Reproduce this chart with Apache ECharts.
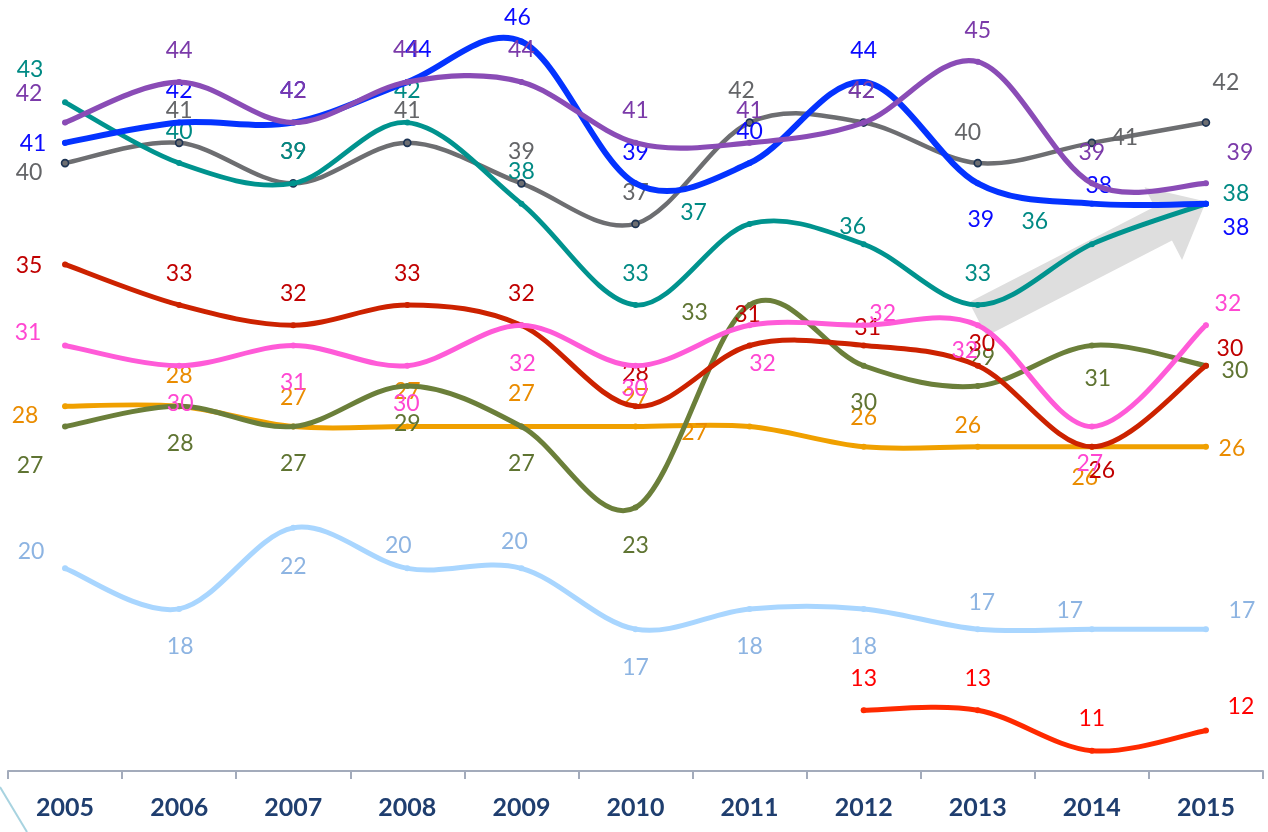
<!DOCTYPE html>
<html>
<head>
<meta charset="utf-8">
<title>Trend 2005–2015</title>
<script src="https://cdn.jsdelivr.net/npm/echarts@6/dist/echarts.min.js"></script>
<style>
  html, body { margin: 0; padding: 0; background: #ffffff; }
  #chart { width: 1268px; height: 832px; }
</style>
</head>
<body>
<div id="chart"></div>
<script>
// Categories
const years = ['2005', '2006', '2007', '2008', '2009', '2010', '2011', '2012', '2013', '2014', '2015'];

// Series values
const purple  = [42, 44, 42, 44, 44, 41, 41, 42, 45, 39, 39];
const blue    = [41, 42, 42, 44, 46, 39, 40, 44, 39, 38, 38];
const gray    = [40, 41, 39, 41, 39, 37, 42, 42, 40, 41, 42];
const teal    = [43, 40, 39, 42, 38, 33, 37, 36, 33, 36, 38];
const crimson = [35, 33, 32, 33, 32, 28, 31, 31, 30, 26, 30];
const pink    = [31, 30, 31, 30, 32, 30, 32, 32, 32, 27, 32];
const amber   = [28, 28, 27, 27, 27, 27, 27, 26, 26, 26, 26];
const olive   = [27, 28, 27, 29, 27, 23, 33, 30, 29, 31, 30];
const sky     = [20, 18, 22, 20, 20, 17, 18, 18, 17, 17, 17];
const scarlet = [null, null, null, null, null, null, null, 13, 13, 11, 12];

// Per-point label nudges (pixels from the point) so the value labels don't collide
const nudges = {
  sky:     [[-34,-17],[1,38],[0,39],[-9,-23],[-7,-27],[0,38],[0,38],[0,38],[4,-27],[-22,-19],[36,-19]],
  scarlet: [null,null,null,null,null,null,null,[0,-32],[0,-32],[0,-32],[35,-24]],
  amber:   [[-40,9],[0,-31],[0,-29],[0,-35],[0,-33],[0,-29],[-55,6],[0,-29],[-10,-21],[-7,31],[26,2]],
  olive:   [[-35,39],[1,37],[0,37],[0,38],[0,37],[0,38],[-55,8],[0,37],[4,-28],[6,33],[29,5]],
  crimson: [[-36,1],[0,-31],[0,-32],[0,-31],[0,-32],[0,-33],[-2,-31],[4,-18],[4,-22],[10,24],[24,-17]],
  pink:    [[-37,-13],[1,38],[0,37],[-1,38],[1,38],[-1,23],[13,38],[19,-12],[-13,25],[-2,37],[22,-22]],
  gray:    [[-36,9],[0,-32],[0,-32],[0,-32],[0,-32],[0,-31],[-8,-32],[-2,-32],[-10,-31],[33,-5],[20,-40]],
  teal:    [[-35,-33],[0,-32],[0,-32],[0,-32],[0,-32],[0,-31],[-56,-11],[-11,-18],[0,-31],[-57,-23],[30,-10]],
  blue:    [[-32,1],[0,-32],[0,-32],[11,-32],[-4,-24],[0,-31],[0,-32],[0,-31],[3,36],[7,-18],[30,24]],
  purple:  [[-36,-29],[0,-31],[0,-32],[-1,-32],[0,-32],[0,-32],[0,-32],[-2,-32],[0,-31],[0,-31],[34,-31]]
};

// Drawing order: first entries sit underneath
const lines = [
  { key: 'sky',     values: sky,     line: '#a9d6ff', text: '#8db4e2', width: 5 },
  { key: 'scarlet', values: scarlet, line: '#ff2a00', text: '#ff0000', width: 5 },
  { key: 'amber',   values: amber,   line: '#f0a000', text: '#ea8c00', width: 5 },
  { key: 'olive',   values: olive,   line: '#6b7f3a', text: '#5f7432', width: 5 },
  { key: 'crimson', values: crimson, line: '#cc2200', text: '#c00000', width: 5 },
  { key: 'pink',    values: pink,    line: '#ff5bd8', text: '#ff47d2', width: 5 },
  { key: 'gray',    values: gray,    line: '#6d6e71', text: '#646568', width: 4.5, ring: '#1d3454' },
  { key: 'teal',    values: teal,    line: '#00938e', text: '#008a84', width: 4.8 },
  { key: 'blue',    values: blue,    line: '#0433ff', text: '#0a0aff', width: 6 },
  { key: 'purple',  values: purple,  line: '#8a4cb6', text: '#7b3aa9', width: 5.2 }
];

const labelFont = 'Lato, "Open Sans", sans-serif';

// Smooth curve through the points (Catmull-Rom spline written as cubic Béziers),
// positioned with the chart's own coordinate system.
function curveRenderer(values, color, width) {
  return function (params, api) {
    const pts = [];
    values.forEach(function (v, i) {
      if (v !== null) pts.push(api.coord([i, v]));
    });
    if (pts.length < 2) return null;
    let d = 'M' + pts[0][0] + ' ' + pts[0][1];
    for (let i = 0; i < pts.length - 1; i++) {
      const p0 = pts[Math.max(i - 1, 0)];
      const p1 = pts[i];
      const p2 = pts[i + 1];
      const p3 = pts[Math.min(i + 2, pts.length - 1)];
      const c1x = p1[0] + (p2[0] - p0[0]) / 6;
      const c1y = p1[1] + (p2[1] - p0[1]) / 6;
      const c2x = p2[0] - (p3[0] - p1[0]) / 6;
      const c2y = p2[1] - (p3[1] - p1[1]) / 6;
      d += ' C' + c1x + ' ' + c1y + ' ' + c2x + ' ' + c2y + ' ' + p2[0] + ' ' + p2[1];
    }
    return {
      type: 'path',
      shape: { pathData: d },
      style: { fill: 'none', stroke: color, lineWidth: width, lineCap: 'round', lineJoin: 'round' },
      silent: true
    };
  };
}

const series = [];
lines.forEach(function (s, idx) {
  // the curve itself
  series.push({
    name: s.key + '-curve',
    type: 'custom',
    renderItem: curveRenderer(s.values, s.line, s.width),
    data: [[0, s.values.find(function (v) { return v !== null; })]],
    encode: { x: 0, y: 1 },
    z: 2 + idx * 0.01,
    silent: true,
    animation: false
  });
  // the point markers and their value labels
  const data = s.values.map(function (v, i) {
    if (v === null) return null;
    const n = nudges[s.key][i] || [0, -32];
    return { value: v, label: { offset: n } };
  });
  series.push({
    name: s.key,
    type: 'line',
    data: data,
    connectNulls: false,
    symbol: 'circle',
    symbolSize: s.ring ? 7 : 6,
    showAllSymbol: true,
    lineStyle: { width: 0, opacity: 0 },
    itemStyle: s.ring
      ? { color: s.line, borderColor: s.ring, borderWidth: 1.6 }
      : { color: s.line, borderWidth: 0 },
    label: {
      show: true,
      position: 'inside',
      align: 'center',
      verticalAlign: 'middle',
      color: s.text,
      fontFamily: labelFont,
      fontSize: 23,
      formatter: '{c}'
    },
    z: 2 + idx * 0.01,
    emphasis: { disabled: true },
    animation: false
  });
});

const chart = echarts.init(document.getElementById('chart'), null, { renderer: 'canvas' });

chart.setOption({
  animation: false,
  backgroundColor: '#ffffff',
  grid: { left: 8, right: 5, top: 1, bottom: 61, containLabel: false },
  xAxis: {
    type: 'category',
    data: years,
    boundaryGap: true,
    axisLine: { show: true, lineStyle: { color: '#a3abbb', width: 2 } },
    axisTick: { show: true, length: 8, lineStyle: { color: '#a3abbb', width: 2 } },
    axisLabel: {
      color: '#1f3e6f',
      fontFamily: labelFont,
      fontWeight: 'bold',
      fontSize: 25,
      margin: 24
    }
  },
  yAxis: {
    type: 'value',
    min: 10,
    max: 48,
    show: false,
    splitLine: { show: false }
  },
  series: series
});

// Grey trend arrow rising towards the final year, anchored in data space
function trendArrow() {
  const tail = chart.convertToPixel({ gridIndex: 0 }, [8.22, 32.3]);
  const tip = chart.convertToPixel({ gridIndex: 0 }, [9.86, 38.1]);
  const dx = tip[0] - tail[0], dy = tip[1] - tail[1];
  const len = Math.sqrt(dx * dx + dy * dy);
  const ux = dx / len, uy = dy / len;       // along the arrow
  const px = -uy, py = ux;                  // perpendicular
  const shaftHalf = 19, headHalf = 41, headLen = 48;
  const bx = tip[0] - ux * headLen, by = tip[1] - uy * headLen;
  return [
    [tail[0] + px * shaftHalf, tail[1] + py * shaftHalf],
    [bx + px * shaftHalf, by + py * shaftHalf],
    [bx + px * headHalf, by + py * headHalf],
    [tip[0], tip[1]],
    [bx - px * headHalf, by - py * headHalf],
    [bx - px * shaftHalf, by - py * shaftHalf],
    [tail[0] - px * shaftHalf, tail[1] - py * shaftHalf]
  ];
}

chart.setOption({
  graphic: [
    {
      type: 'polygon',
      z: -1,
      silent: true,
      shape: { points: trendArrow() },
      style: { fill: '#dedede' }
    },
    {
      type: 'line',
      z: -1,
      silent: true,
      shape: { x1: 0, y1: 787, x2: 27, y2: 832 },
      style: { stroke: '#a8d3e0', lineWidth: 2 }
    }
  ]
});
</script>
</body>
</html>
